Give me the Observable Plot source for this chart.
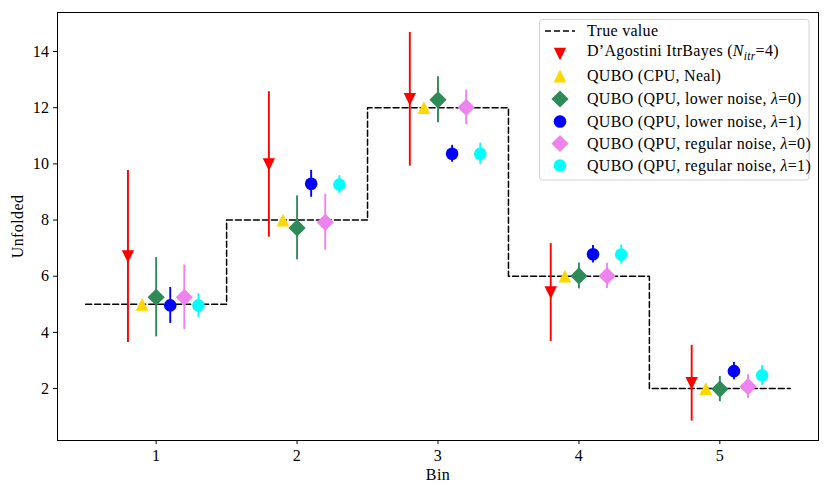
<!DOCTYPE html>
<html><head><meta charset="utf-8">
<script src="https://cdn.jsdelivr.net/npm/d3@7"></script>
<script src="https://cdn.jsdelivr.net/npm/@observablehq/plot@0.6"></script>
<style>
body{margin:0;background:#fff;}
#wrap{position:relative;width:830px;height:498px;}
#wrap svg{position:absolute;left:0;top:0;}
#wrap svg text{font-family:"Liberation Serif",serif !important;}
</style></head><body><div id="wrap"></div>
<script>
// ---- data ----
const bins = [1, 2, 3, 4, 5];
const trueValue = [5, 8, 12, 6, 2];
const yTicks = [2, 4, 6, 8, 10, 12, 14];

const agoVals = [6.70, 9.98, 12.30, 5.42, 2.19];
const agoErr  = [3.06, 2.59, 2.38, 1.74, 1.35];
const cpuVals = [5.00, 8.00, 12.00, 6.00, 2.00];
const cpuErr  = [0, 0, 0, 0, 0];
const low0Vals = [5.25, 7.72, 12.28, 6.01, 1.98];
const low0Err  = [1.41, 1.14, 0.82, 0.46, 0.45];
const low1Vals = [4.96, 9.29, 10.36, 6.78, 2.62];
const low1Err  = [0.64, 0.48, 0.30, 0.31, 0.31];
const reg0Vals = [5.25, 7.92, 12.01, 6.01, 2.07];
const reg0Err  = [1.15, 0.99, 0.62, 0.45, 0.42];
const reg1Vals = [4.96, 9.26, 10.36, 6.77, 2.47];
const reg1Err  = [0.42, 0.32, 0.38, 0.34, 0.35];

const seriesNames = ["ago", "cpu", "low0", "low1", "reg0", "reg1"];
const seriesOffsets = [-0.2, -0.1, 0, 0.1, 0.2, 0.3];
const seriesColors = ["#ff0000", "#ffd700", "#2e8b57", "#0000ff", "#ee82ee", "#00ffff"];

// ---- symbols (matplotlib-like) ----
const rOf = s => Math.sqrt(s / Math.PI);
const triUp = {draw(c, s){const r = rOf(s); c.moveTo(0,-r); c.lineTo(r,r); c.lineTo(-r,r); c.closePath();}};
const triDown = {draw(c, s){const r = rOf(s); c.moveTo(0,r); c.lineTo(r,-r); c.lineTo(-r,-r); c.closePath();}};
const diamond = {draw(c, s){const r = rOf(s); c.moveTo(0,-r); c.lineTo(r,0); c.lineTo(0,r); c.lineTo(-r,0); c.closePath();}};
const circle = {draw(c, s){const r = rOf(s); c.moveTo(r,0); c.arc(0,0,r,0,2*Math.PI);}};
const seriesSymbols = [triDown, triUp, diamond, circle, diamond, circle];
const seriesR = [6.2, 6.4, 8.6, 6.3, 8.6, 6.3];

const allVals = [agoVals, cpuVals, low0Vals, low1Vals, reg0Vals, reg1Vals];
const allErr = [agoErr, cpuErr, low0Err, low1Err, reg0Err, reg1Err];

const stepData = bins.map((b, i) => ({x: b - 0.5, y: trueValue[i]}))
  .concat([{x: bins[bins.length-1] + 0.5, y: trueValue[trueValue.length-1]}]);

const marks = [
  Plot.line(stepData, {x: "x", y: "y", curve: "step-after", stroke: "black", strokeWidth: 1.5, strokeDasharray: "6,3"})
];
seriesNames.forEach((name, k) => {
  const rows = bins.map((b, i) => ({x: b + seriesOffsets[k], v: allVals[k][i], lo: allVals[k][i] - allErr[k][i], hi: allVals[k][i] + allErr[k][i]}));
  marks.push(Plot.ruleX(rows.filter(d => d.hi > d.lo), {x: "x", y1: "lo", y2: "hi", stroke: seriesColors[k], strokeWidth: 1.9}));
  marks.push(Plot.dot(rows, {x: "x", y: "v", symbol: seriesSymbols[k], r: seriesR[k], fill: seriesColors[k], stroke: "none"}));
});
marks.push(Plot.frame({stroke: "black", strokeWidth: 1}));

const chart = Plot.plot({
  width: 830, height: 498,
  marginLeft: 57, marginRight: 12, marginTop: 12, marginBottom: 58,
  style: {fontFamily: "Liberation Serif", fontSize: "16px", color: "#000", background: "white", overflow: "visible"},
  x: {domain: [0.3, 5.7], ticks: bins, tickFormat: d => String(d), label: "Bin", labelAnchor: "center", labelArrow: "none", labelOffset: 39, tickSize: 4, tickPadding: 5},
  y: {domain: [0.15, 15.39], ticks: yTicks, tickFormat: d => String(d), label: "Unfolded", labelAnchor: "center", labelArrow: "none", labelOffset: 46, tickSize: 4, tickPadding: 4},
  marks
});
document.getElementById("wrap").appendChild(chart);
d3.select(chart).selectAll("[aria-label$='label'] text").style("letter-spacing", "0.4px");

// ---- legend overlay ----
const leg = d3.select("#wrap").append("svg").attr("width", 830).attr("height", 498)
  .style("pointer-events", "none").style("font-size", "16px").style("letter-spacing", "0.3px");
leg.append("rect").attr("x", 539.5).attr("y", 19.5).attr("width", 269.5).attr("height", 160.5)
  .attr("rx", 3).attr("fill", "white").attr("fill-opacity", 0.8).attr("stroke", "#d3d3d3").attr("stroke-width", 1);

const legendRowsY = [31, 54, 76, 99, 121.5, 143.5, 165.5];
const mx = 560, tx = 587;
leg.append("line").attr("x1", 545).attr("x2", 575).attr("y1", legendRowsY[0]).attr("y2", legendRowsY[0])
  .attr("stroke", "black").attr("stroke-width", 1.5).attr("stroke-dasharray", "6,3");
leg.append("text").attr("x", tx).attr("y", legendRowsY[0] + 5).text("True value");

const legLabels = [
  [["D’Agostini ItrBayes (", null], ["N", "i"], ["itr", "sub"], ["=4)", null]],
  [["QUBO (CPU, Neal)", null]],
  [["QUBO (QPU, lower noise, ", null], ["λ", "i"], ["=0)", null]],
  [["QUBO (QPU, lower noise, ", null], ["λ", "i"], ["=1)", null]],
  [["QUBO (QPU, regular noise, ", null], ["λ", "i"], ["=0)", null]],
  [["QUBO (QPU, regular noise, ", null], ["λ", "i"], ["=1)", null]]
];
seriesNames.forEach((name, k) => {
  const y = legendRowsY[k + 1];
  leg.append("path").attr("transform", `translate(${mx},${y})`)
    .attr("d", d3.symbol(seriesSymbols[k], Math.PI * seriesR[k] * seriesR[k])())
    .attr("fill", seriesColors[k]);
  const t = leg.append("text").attr("x", tx).attr("y", y + (k === 0 ? 2 : 5));
  let sub = false;
  legLabels[k].forEach(([s, st]) => {
    const sp = t.append("tspan").text(s);
    if (st === "i" || st === "sub") sp.style("font-style", "italic");
    if (st === "sub") { sp.attr("dy", 3.5).style("font-size", "11.5px"); sub = true; }
    else if (sub) { sp.attr("dy", -3.5); sub = false; }
  });
});
</script></body></html>
